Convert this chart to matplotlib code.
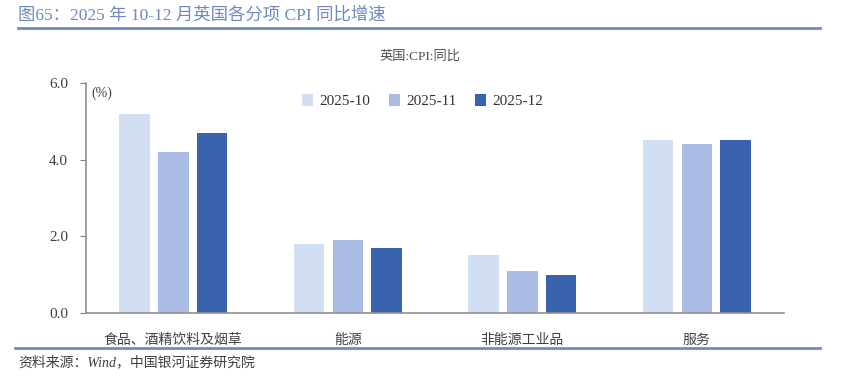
import numpy as np
import matplotlib
matplotlib.use('Agg')
import matplotlib.pyplot as plt

plt.rcParams['font.family'] = ['Liberation Serif', 'Noto Sans CJK SC']

categories = ['食品、酒精饮料及烟草', '能源', '非能源工业品', '服务']
series_names = ['2025-10', '2025-11', '2025-12']
oct_vals = [5.2, 1.8, 1.5, 4.5]
nov_vals = [4.2, 1.9, 1.1, 4.4]
dec_vals = [4.7, 1.7, 1.0, 4.5]
colors = ['#D2DEF1', '#A9BCE3', '#3A63AE']
yticks = [0.0, 2.0, 4.0, 6.0]

fig = plt.figure(figsize=(8.41, 3.76), dpi=100)
ax = fig.add_axes([0.1023, 0.1676, 0.830, 0.612])

x = np.arange(len(categories))
w = 0.175
off = 0.222
for i, (vals, name) in enumerate(zip([oct_vals, nov_vals, dec_vals], series_names)):
    ax.bar(x + (i - 1) * off, vals, w, color=colors[i], label=name)

ax.set_xlim(-0.5, 3.5)
ax.set_ylim(0, 6)
ax.set_yticks(yticks)
ax.set_yticklabels(['%.1f' % v for v in yticks], fontsize=11, color='#404040')
ax.set_xticks(x)
ax.set_xticklabels(categories, fontsize=10, color='#404040')
ax.tick_params(axis='x', length=0, pad=15)
ax.tick_params(axis='y', length=4, color='#808080', direction='out', pad=9)
for s in ['top', 'right']:
    ax.spines[s].set_visible(False)
for s in ['left', 'bottom']:
    ax.spines[s].set_color('#909090')
    ax.spines[s].set_linewidth(1.2)

ax.text(0.008, 0.985, '(%)', transform=ax.transAxes, fontsize=10, color='#404040', va='top')

ax.legend(loc='center', bbox_to_anchor=(0.482, 0.92), ncol=3, frameon=False,
          fontsize=11, handlelength=0.75, handleheight=0.75, handletextpad=0.4,
          columnspacing=1.2, labelcolor='#333333')

fig.text(420 / 841, 1 - 57 / 376, '英国:CPI:同比', ha='center', va='center',
         fontsize=9.5, color='#505050')

fig.text(18 / 841, 1 - 15 / 376, '图65：2025 年 10-12 月英国各分项 CPI 同比增速', ha='left', va='center',
         fontsize=12.5, color='#6F88C0')
fig.add_artist(plt.Line2D([18 / 841, 820 / 841], [1 - 28 / 376, 1 - 28 / 376],
                          color='#6F8CC0', lw=2))
fig.add_artist(plt.Line2D([15 / 841, 820 / 841], [1 - 348 / 376, 1 - 348 / 376],
                          color='#6F8CC0', lw=2))
fig.text(18 / 841, 1 - 362 / 376, '资料来源：Wind，中国银河证券研究院', ha='left', va='center',
         fontsize=10, color='#404040', style='italic')

fig.savefig('out.png', dpi=100)
